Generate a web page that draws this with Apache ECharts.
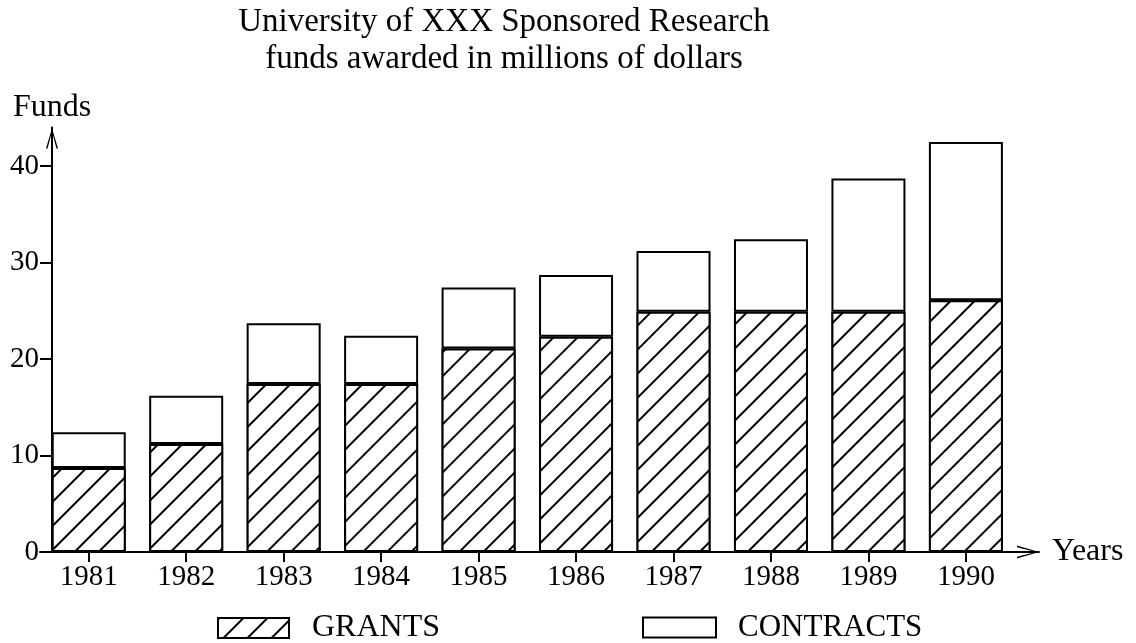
<!DOCTYPE html>
<html>
<head>
<meta charset="utf-8">
<script src="https://cdn.jsdelivr.net/npm/echarts@6/dist/echarts.min.js"></script>
<style>
  html, body { margin: 0; padding: 0; background: #fff; }
  #chart { width: 1136px; height: 643px; }
</style>
</head>
<body>
<div id="chart"></div>
<script>
// ---- data ----
const years = [1981, 1982, 1983, 1984, 1985, 1986, 1987, 1988, 1989, 1990];
const grants = [8.7, 11.2, 17.4, 17.4, 21.1, 22.3, 24.9, 24.9, 24.9, 26.1];
const contracts = [3.7, 5.0, 6.3, 5.0, 6.3, 6.4, 6.3, 7.5, 13.8, 16.4];
const yTicks = [0, 10, 20, 30, 40];
const titleLines = ['University of XXX Sponsored Research', 'funds awarded in millions of dollars'];
const seriesNames = ['GRANTS', 'CONTRACTS'];

const FONT = '"Liberation Serif", "DejaVu Serif", serif';
const chevron = 'path://M6.5,0 L13,22 L11.3,22 L6.5,3.5 L1.7,22 L0,22 Z';

const hatch = {
  symbol: 'rect',
  symbolSize: 1,
  dashArrayX: [1, 0],
  dashArrayY: [2, 15],
  rotation: -Math.PI / 4,
  color: '#000',
  backgroundColor: '#fff'
};

const chart = echarts.init(document.getElementById('chart'), null, { renderer: 'canvas' });
chart.setOption({
  backgroundColor: '#fff',
  animation: false,
  title: {
    text: titleLines.join('\n'),
    left: 504,
    top: 4,
    padding: 0,
    textAlign: 'center',
    textStyle: { fontFamily: FONT, fontSize: 33, fontWeight: 'normal', color: '#000', lineHeight: 37 }
  },
  legend: [
    {
      data: [seriesNames[0]],
      left: 212, top: 607,
      itemWidth: 71, itemHeight: 20,
      icon: 'rect',
      textStyle: { fontFamily: FONT, fontSize: 32, color: '#000', padding: [0, 0, 0, 18] }
    },
    {
      data: [seriesNames[1]],
      left: 637, top: 607,
      itemWidth: 73, itemHeight: 20,
      icon: 'rect',
      textStyle: { fontFamily: FONT, fontSize: 31, color: '#000', padding: [0, 0, 0, 17] }
    }
  ],
  grid: { left: 40, right: 97, top: 127.4, bottom: 91, containLabel: false },
  xAxis: {
    type: 'value',
    min: 1980.5,
    max: 1990.75,
    name: 'Years',
    nameLocation: 'end',
    nameGap: 13,
    nameTextStyle: { fontFamily: FONT, fontSize: 32, color: '#000' },
    axisLine: {
      show: true, onZero: false,
      lineStyle: { color: '#000', width: 2 },
      symbol: ['none', chevron],
      symbolSize: [14, 22],
      symbolOffset: [0, -11]
    },
    axisTick: { show: true, length: 10, lineStyle: { color: '#000', width: 2 }, customValues: years },
    axisLabel: {
      fontFamily: FONT, fontSize: 29, color: '#000', margin: 11,
      customValues: years,
      formatter: v => String(v)
    },
    splitLine: { show: false }
  },
  yAxis: {
    type: 'value',
    min: 0,
    max: 44,
    offset: -12,
    name: 'Funds',
    nameLocation: 'end',
    nameGap: 4,
    nameTextStyle: { fontFamily: FONT, fontSize: 32, color: '#000' },
    axisLine: {
      show: true, onZero: false,
      lineStyle: { color: '#000', width: 2 },
      symbol: ['none', chevron],
      symbolSize: [12, 22],
      symbolOffset: [0, -11]
    },
    axisTick: { show: true, length: 12, lineStyle: { color: '#000', width: 2 }, customValues: yTicks },
    axisLabel: { fontFamily: FONT, fontSize: 29, color: '#000', margin: 13, customValues: yTicks },
    splitLine: { show: false }
  },
  series: [
    {
      name: seriesNames[0],
      type: 'bar',
      stack: 'funds',
      barWidth: 74,
      // value first so the stack is computed on the value (y) dimension
      data: years.map((y, i) => [grants[i], y]),
      encode: { x: 1, y: 0 },
      itemStyle: { color: '#fff', borderColor: '#000', borderWidth: 2, decal: hatch }
    },
    {
      name: seriesNames[1],
      type: 'bar',
      stack: 'funds',
      barWidth: 74,
      data: years.map((y, i) => [contracts[i], y]),
      encode: { x: 1, y: 0 },
      itemStyle: { color: '#fff', borderColor: '#000', borderWidth: 2 }
    }
  ]
});
</script>
</body>
</html>
